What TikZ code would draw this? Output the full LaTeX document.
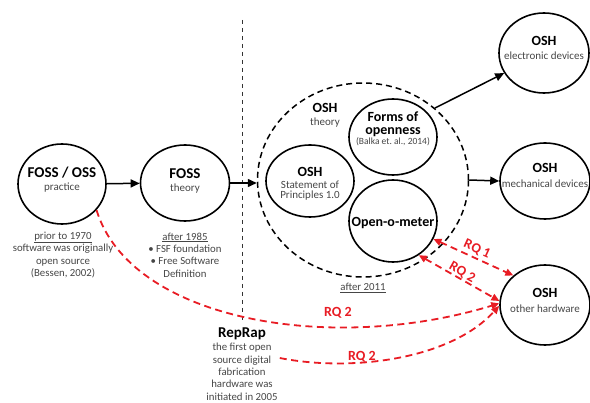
\documentclass[tikz,border=0pt]{standalone}
\usepackage{fontspec}
\setmainfont{Carlito}
\usetikzlibrary{shapes.geometric,arrows.meta}
\definecolor{rqred}{RGB}{232,28,36}
\definecolor{subgray}{RGB}{70,70,70}
\newcommand\ttlf{\fontsize{15}{17}\selectfont\bfseries}
\newcommand\innerf{\fontsize{14}{16}\selectfont\bfseries}
\newcommand\subf{\fontsize{11}{13}\selectfont\color{subgray}}
\newcommand\notef{\fontsize{10.8}{12.4}\selectfont\color{subgray}}
\begin{document}
\begin{tikzpicture}[x=1pt,y=-1pt,
  circ/.style={ellipse,draw,line width=1.6pt,inner sep=0pt},
  txt/.style={align=center,inner sep=0pt},
  dcirc/.style={ellipse,draw,line width=1.5pt,dash pattern=on 6pt off 4pt,inner sep=0pt},
  blk/.style={line width=1.5pt,-{Triangle[length=9pt,width=8pt]}},
  rq/.style={rqred,line width=1.8pt,dash pattern=on 7pt off 4.5pt},
  rql/.style={text=rqred,font=\fontsize{14}{16}\selectfont\bfseries,inner sep=0pt},
  note/.style={align=center,inner sep=0pt,font=\notef},
  vline/.style={line width=1pt,black!80,dash pattern=on 4pt off 4pt}
]
\useasboundingbox (0,0) rectangle (590,403);

% vertical divider
\coordinate (vt) at (242,20);
\coordinate (vb) at (242,322);
\draw[vline] (vt) -- (vb);

% circles (shapes)
\node[circ, minimum width=88pt, minimum height=80pt] (fo) at (62,184) {};
\node[circ, minimum width=89pt, minimum height=76pt] (fs) at (185,183) {};
\node[dcirc, minimum width=211pt, minimum height=194pt] (dc) at (363,180) {};
\node[circ, minimum width=88pt, minimum height=72pt] (sp) at (310,181) {};
\node[circ, minimum width=88pt, minimum height=76pt] (fm) at (393,137) {};
\node[circ, minimum width=88pt, minimum height=82pt] (om) at (393,221) {};
\node[circ, minimum width=90pt, minimum height=80pt] (el) at (544,53) {};
\node[circ, minimum width=90pt, minimum height=76pt] (me) at (545,181) {};
\node[circ, minimum width=90pt, minimum height=80pt] (ot) at (545,305) {};

% circle texts
\node[txt] (foT) at (62,180) {{\ttlf FOSS / OSS}\\[1pt]{\subf practice}};
\node[txt] (fsT) at (185,181) {{\ttlf FOSS}\\[1pt]{\subf theory}};
\node[txt] (spT) at (310,184) {{\innerf OSH}\\{\subf Statement of}\\[-1.5pt]{\subf Principles 1.0}};
\node[txt] (fmT) at (393,129) {{\innerf Forms of}\\[0.5pt]{\innerf openness}\\[-2pt]{\fontsize{9.5}{11}\selectfont\color{subgray}(Balka et.\ al., 2014)}};
\node[txt] (omT) at (393,223) {{\innerf Open-o-meter}};
\node[txt] (elT) at (544,48) {{\innerf OSH}\\[2.5pt]{\subf electronic devices}};
\node[txt] (meT) at (545,175.5) {{\innerf OSH}\\[2.5pt]{\subf mechanical devices}};
\node[txt] (otT) at (545,300.5) {{\innerf OSH}\\[2.5pt]{\subf other hardware}};

% labels
\node[txt] (th) at (325,115) {{\innerf OSH}\\[1pt]{\subf theory}};
\node[note] (prior) at (63,255) {\underline{prior to 1970}\\software was originally\\open source\\(Bessen, 2002)};
\node[note] (after) at (185,255) {\underline{after 1985}\\\textbullet\ FSF foundation\\\textbullet\ Free Software\\Definition};
\node[note] (a2011) at (363,288) {\underline{after 2011}};
\node[note] (rr) at (242,364) {{\ttlf\color{black} RepRap}\\[1pt]the first open\\source digital\\fabrication\\hardware was\\initiated in 2005};

% black arrows
\draw[blk] (fo) -- (fs);
\draw[blk] (fs.east) -- (fs.east -| dc.west);
\draw[blk] (dc.east) -- (me.west);
\draw[blk] (dc.45) -- (el);

% red arrows
\draw[rq,{Triangle[length=8pt,width=7pt]}-{Triangle[length=8pt,width=7pt]}] (om.-24) -- node[rql,sloped,above=2.5pt] {RQ 1} (ot.137);
\draw[rq,{Triangle[length=8pt,width=7pt]}-{Triangle[length=8pt,width=7pt]}] (om.-53) -- node[rql,sloped,above=0pt] {RQ 2} (ot.175);
\draw[rq,-{Triangle[length=8pt,width=7pt]}] (fo.-37) .. controls (130,320) and (330,355) .. (ot.178);
\draw[rq,-{Triangle[length=8pt,width=7pt]}] ([xshift=2pt,yshift=6pt]rr.east) .. controls (350,372) and (450,360) .. (ot.181);
\node[rql] (l3) at (338,313) {RQ 2};
\node[rql] (l4) at (362,357) {RQ 2};
\end{tikzpicture}
\end{document}
